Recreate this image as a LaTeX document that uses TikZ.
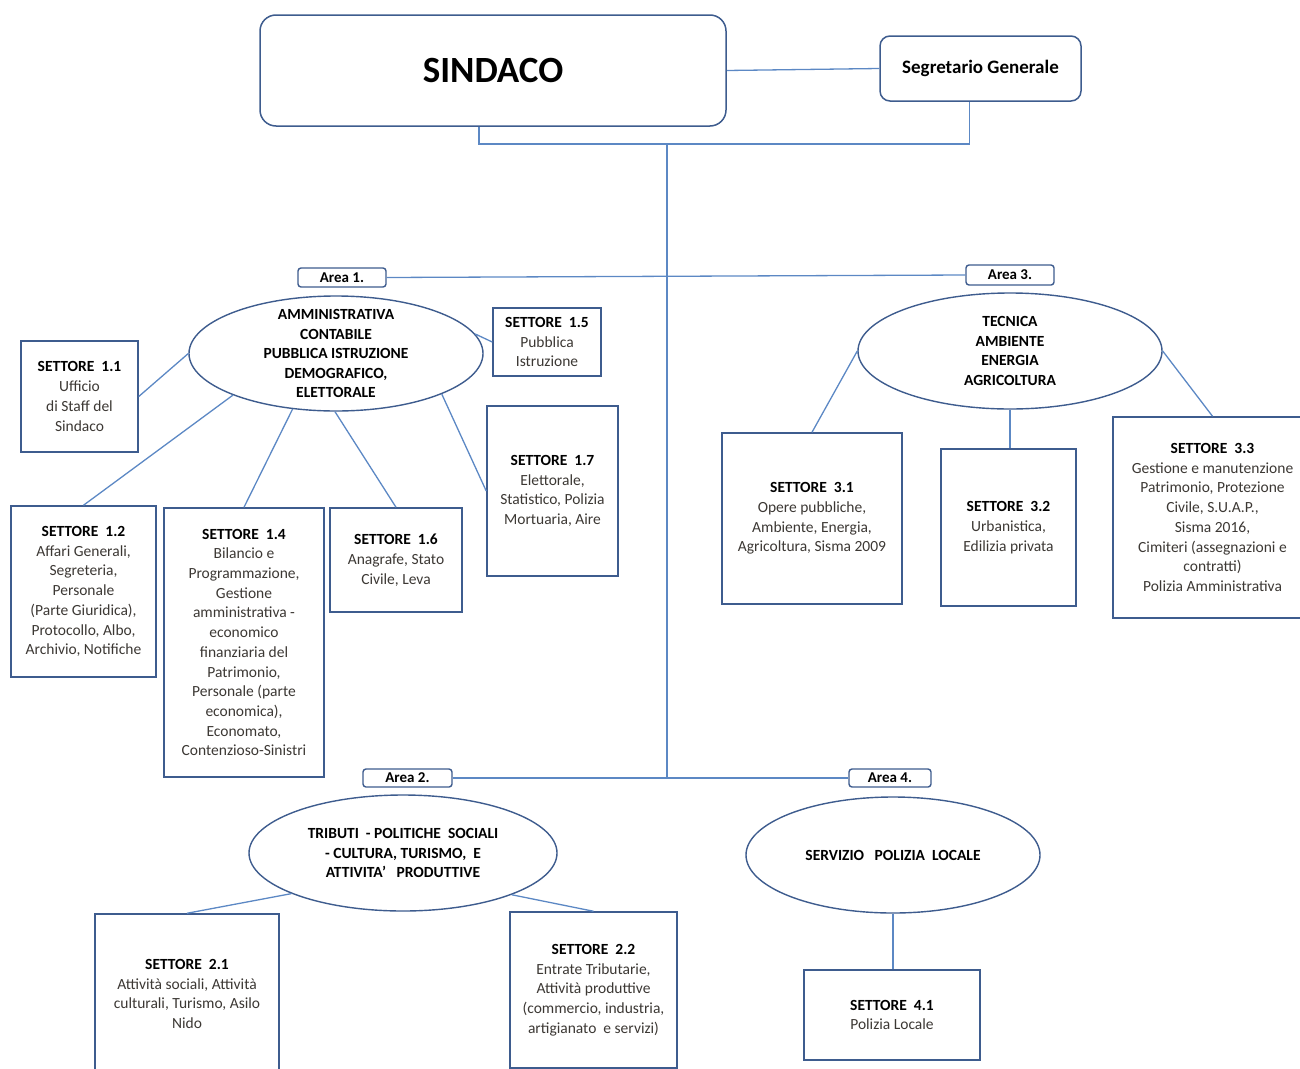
\documentclass[tikz,border=0pt]{standalone}
\usepackage{fontspec}
\setmainfont{Carlito}
\usetikzlibrary{shapes.geometric}
\definecolor{boxc}{RGB}{62,92,142}
\definecolor{linec}{RGB}{92,136,196}
\definecolor{bodyc}{RGB}{60,56,52}
\newcommand{\ttl}[1]{{\bfseries\color{black}#1}}
\tikzset{
  sbox/.style={draw=boxc, line width=1.5pt, fill=white, align=center, inner sep=0pt,
    text=bodyc, font=\fontsize{15.5}{19.7}\selectfont},
  rbox/.style={draw=boxc, line width=1.5pt, fill=white, align=center, inner sep=0pt,
    rounded corners=#1, text=black},
  areabox/.style={draw=boxc, line width=1.4pt, fill=white, rounded corners=3pt, inner sep=0pt,
    font=\bfseries\fontsize{15}{16}\selectfont},
  ell/.style={draw=boxc, line width=1.4pt, ellipse, inner sep=0pt, fill=white},
  elltext/.style={align=center, font=\bfseries\fontsize{15.5}{19.5}\selectfont, text=black},
  conn/.style={draw=linec, line width=1.3pt},
}
\begin{document}
\begin{tikzpicture}[x=1pt,y=-1pt]
\useasboundingbox (0,0) rectangle (1300,1068);
\clip (0,0) rectangle (1300,1068);
% top
\node[rbox=16pt, minimum width=466pt, minimum height=111pt, font=\bfseries\fontsize{37}{40}\selectfont] (sind) at (493,70.5) {SINDACO};
\node[rbox=10pt, minimum width=201pt, minimum height=65pt, font=\bfseries\fontsize{19}{22}\selectfont] (seg) at (980.5,68.5) {Segretario Generale};
\coordinate (br1) at (479,144);
\coordinate (tr1) at (667,144);
\coordinate (tr2) at (667,778);
\draw[conn] (sind.east) -- (seg.west);
\draw[conn] (sind.south -| br1) -- (br1) -| ([xshift=-11pt]seg.south);
\draw[conn] (tr1) -- (tr2);
% area labels
\node[areabox, minimum width=88pt, minimum height=19pt] (a1) at (342,277.5) {Area 1.};
\node[areabox, minimum width=88pt, minimum height=20pt] (a3) at (1010,275) {Area 3.};
\node[areabox, minimum width=89pt, minimum height=18pt] (a2) at (407.5,778) {Area 2.};
\node[areabox, minimum width=82pt, minimum height=18pt] (a4) at (890,778) {Area 4.};
\draw[conn] (a1.east) -- (a3.west);
\draw[conn] (a2.east) -- (a4.west);
% ellipses
\node[ell, minimum width=294pt, minimum height=115pt] (e1) at (336,353.5) {};
\node[elltext] at (e1) {AMMINISTRATIVA\\CONTABILE\\PUBBLICA ISTRUZIONE\\DEMOGRAFICO,\\ELETTORALE};
\node[ell, minimum width=304pt, minimum height=116pt] (e3) at (1010,351) {};
\node[elltext] at (e3) {TECNICA\\AMBIENTE\\ENERGIA\\AGRICOLTURA};
\node[ell, minimum width=308pt, minimum height=116pt] (e2) at (403,853) {};
\node[elltext] at (e2) {TRIBUTI\ \ - POLITICHE\ \ SOCIALI\\- CULTURA, TURISMO,\ \ E\\ATTIVITA'\ \ \ PRODUTTIVE};
\node[ell, minimum width=294pt, minimum height=116pt] (e4) at (893,855) {};
\node[elltext] at (e4) {SERVIZIO\ \ \ POLIZIA\ \ LOCALE};
% area 1 boxes
\node[sbox, minimum width=117pt, minimum height=111pt] (s11) at (79.5,396.5) {\ttl{SETTORE\ \ 1.1}\\Ufficio\\di Staff del\\Sindaco};
\node[sbox, minimum width=108pt, minimum height=68pt] (s15) at (547,342) {\ttl{SETTORE\ \ 1.5}\\Pubblica\\Istruzione};
\node[sbox, minimum width=131pt, minimum height=170pt] (s17) at (552.5,491) {\ttl{SETTORE\ \ 1.7}\\Elettorale,\\Statistico, Polizia\\Mortuaria, Aire};
\node[sbox, minimum width=145pt, minimum height=171pt] (s12) at (83.5,591.5) {\ttl{SETTORE\ \ 1.2}\\Affari Generali,\\Segreteria,\\Personale\\(Parte Giuridica),\\Protocollo, Albo,\\Archivio, Notifiche};
\node[sbox, minimum width=160pt, minimum height=269pt] (s14) at (244,642.5) {\ttl{SETTORE\ \ 1.4}\\Bilancio e\\Programmazione,\\Gestione\\amministrativa\ -\\economico\\finanziaria del\\Patrimonio,\\Personale (parte\\economica),\\Economato,\\Contenzioso-Sinistri};
\node[sbox, minimum width=132pt, minimum height=104pt] (s16) at (396,560) {\ttl{SETTORE\ \ 1.6}\\Anagrafe,\ Stato\\Civile,\ Leva};
% area 3 boxes
\node[sbox, minimum width=180pt, minimum height=171pt] (s31) at (812,518.5) {\ttl{SETTORE\ \ 3.1}\\Opere\ pubbliche,\\Ambiente,\ Energia,\\Agricoltura,\ Sisma\ 2009};
\node[sbox, minimum width=135pt, minimum height=157pt] (s32) at (1008.5,527.5) {\ttl{SETTORE\ \ 3.2}\\Urbanistica,\\Edilizia privata};
\node[sbox, minimum width=199pt, minimum height=201pt] (s33) at (1212.5,517.5) {\ttl{SETTORE\ \ 3.3}\\Gestione e manutenzione\\Patrimonio,\ Protezione\\Civile,\ S.U.A.P.,\\Sisma 2016,\\Cimiteri\ (assegnazioni e\\contratti)\\Polizia Amministrativa};
% area 2 boxes
\node[sbox, minimum width=184pt, minimum height=160pt] (s21) at (187,994) {\ttl{SETTORE\ \ 2.1}\\Attività\ sociali, Attività\\culturali, Turismo,\ Asilo\\Nido};
\node[sbox, minimum width=167pt, minimum height=156pt] (s22) at (593.5,990) {\ttl{SETTORE\ \ 2.2}\\Entrate\ Tributarie,\\Attività\ produttive\\(commercio,\ industria,\\artigianato\ \ e servizi)};
% area 4 box
\node[sbox, minimum width=176pt, minimum height=90pt] (s41) at (892,1015) {\ttl{SETTORE\ \ 4.1}\\Polizia Locale};
% connectors area 1
\draw[conn] (e1.180) -- (s11.east);
\draw[conn] (e1.8) -- (s15.west);
\draw[conn] (e1.202) -- (s12.north);
\draw[conn] (e1.232) -- (s14.north);
\draw[conn] (e1.269) -- (s16.north);
\draw[conn] (e1.339) -- (s17.west);
% area 3
\draw[conn] (e3.180) -- (s31.north);
\draw[conn] (e3.south) -- (e3.south |- s32.north);
\draw[conn] (e3.0) -- (s33.north);
% area 2
\draw[conn] (e2.200.7) -- (s21.north);
\draw[conn] (e2.339.6) -- (s22.north);
% area 4
\draw[conn] (e4.south) -- (e4.south |- s41.north);
\end{tikzpicture}
\end{document}
